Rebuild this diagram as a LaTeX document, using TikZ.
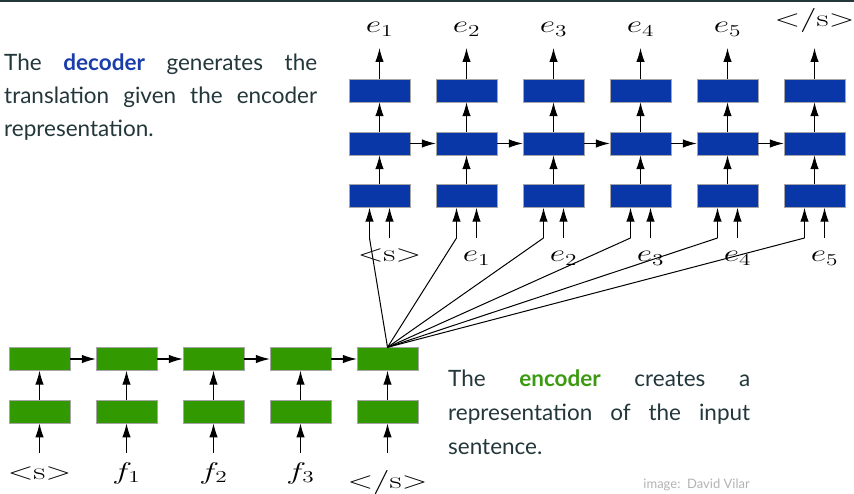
\documentclass[tikz,border=0pt]{standalone}
\usepackage[no-math]{fontspec}
\setmainfont{Lato}
\usetikzlibrary{arrows.meta}
\definecolor{mDarkTeal}{HTML}{23373B}
\definecolor{decblue}{HTML}{0A37A7}
\definecolor{encgreen}{HTML}{339900}
\definecolor{decword}{HTML}{1A3DAA}
\definecolor{encword}{HTML}{3C9A10}
\newcommand{\wsym}[1]{\scalebox{1.62}[1.16]{$#1$}}
\tikzset{
  cell/.style={rectangle,draw=gray!70,line width=0.4pt,minimum width=61pt,minimum height=23pt,inner sep=0pt},
  deccell/.style={cell,fill=decblue},
  enccell/.style={cell,fill=encgreen},
  arr/.style={-{Latex[length=14pt,width=8.5pt]},line width=1.1pt},
  feed/.style={line width=1pt},
  sym/.style={inner sep=0pt,anchor=base,font=\fontsize{20.74}{25}\selectfont},
  prose/.style={inner sep=0pt,anchor=north west,align=justify,text=mDarkTeal,font=\fontsize{22.5}{33}\selectfont}
}
\begin{document}
\begin{tikzpicture}[x=1pt,y=-1pt]
\useasboundingbox (0,0) rectangle (854,494);
\fill[mDarkTeal] (0,0) rectangle (854,2);
% encoder
\foreach \n in {1,...,5}{
    \node[enccell] at ({39.5+87*(\n-1)},411.7) (eb\n) {};
    \node[enccell] at ({39.5+87*(\n-1)},359) (et\n) {};
    \coordinate (ei\n) at ({39.5+87*(\n-1)},453);
    \draw[arr] (ei\n) -- (eb\n);
    \draw[arr] (eb\n) -- (et\n);
}
\foreach \n [evaluate=\n as \m using int(\n+1)] in {1,...,4}
    \draw[arr] (et\n) -- (et\m);
\node[sym] at (39.5,479) (el0) {\wsym{{<}\mathrm{s}{>}}};
\node[sym] at (126.5,479) (el1) {\wsym{f_1}};
\node[sym] at (213.5,479) (el2) {\wsym{f_2}};
\node[sym] at (300.5,479) (el3) {\wsym{f_3}};
\node[sym] at (387.5,488) (el4) {\wsym{{<}/\mathrm{s}{>}}};
% decoder
\foreach \n in {1,...,6}{
    \node[deccell] at ({379.5+87*(\n-1)},196) (db\n) {};
    \node[deccell] at ({379.5+87*(\n-1)},143.5) (dm\n) {};
    \node[deccell] at ({379.5+87*(\n-1)},90.5) (dt\n) {};
    \coordinate (do\n) at ({379.5+87*(\n-1)},48);
    \coordinate (di\n) at ({389.5+87*(\n-1)},238);
    \coordinate (bend\n) at ({369.5+87*(\n-1)},238);
    \draw[arr] (di\n) -- (di\n |- db\n.south);
    \draw[feed] (et5.north) -- (bend\n);
    \draw[arr] (bend\n) -- (bend\n |- db\n.south);
    \draw[arr] (db\n) -- (dm\n);
    \draw[arr] (dm\n) -- (dt\n);
    \draw[arr] (dt\n) -- (do\n);
}
\foreach \n [evaluate=\n as \m using int(\n+1)] in {1,...,5}
    \draw[arr] (dm\n) -- (dm\m);
\foreach \n in {1,...,5}{
    \node[sym] at ({379.5+87*(\n-1)},33) (dout\n) {\wsym{e_\n}};
    \node[sym] at ({389.5+87*\n},262) (din\n) {\wsym{e_\n}};
}
\node[sym] at (814.5,27) (dout6) {\wsym{{<}/\mathrm{s}{>}}};
\node[sym] at (389.5,262) (din0) {\wsym{{<}\mathrm{s}{>}}};
% texts
\node[prose,text width=313pt] at (4,54) (dectext)
    {The \textcolor{decword}{\bfseries decoder} generates the\linebreak translation given the encoder\linebreak representation.};
\node[prose,text width=302pt,font=\fontsize{22.5}{34}\selectfont] at (448,370) (enctext)
    {The \textcolor{encword}{\bfseries encoder} creates a\linebreak representation of the input\linebreak sentence.};
\node[anchor=base east,inner sep=0pt,text=gray!60,font=\fontsize{13}{15}\selectfont] at (750,488) (credit) {image:\ \ David Vilar};
\end{tikzpicture}
\end{document}
